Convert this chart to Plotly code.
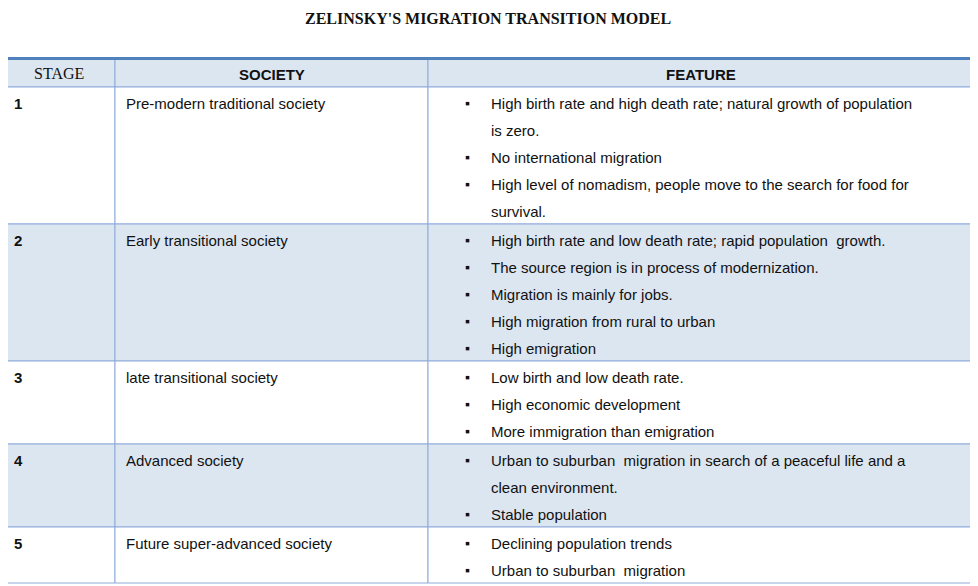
import plotly.graph_objects as go

title = "ZELINSKY'S MIGRATION TRANSITION MODEL"
headers = ["STAGE", "SOCIETY", "FEATURE"]
stages = ["1", "2", "3", "4", "5"]
societies = ["Pre-modern traditional society", "Early transitional society",
             "late transitional society", "Advanced society", "Future super-advanced society"]
features = [
    [["High birth rate and high death rate; natural growth of population", "is zero."],
     ["No international migration"],
     ["High level of nomadism, people move to the search for food for", "survival."]],
    [["High birth rate and low death rate; rapid population  growth."],
     ["The source region is in process of modernization."],
     ["Migration is mainly for jobs."],
     ["High migration from rural to urban"],
     ["High emigration"]],
    [["Low birth and low death rate."],
     ["High economic development"],
     ["More immigration than emigration"]],
    [["Urban to suburban  migration in search of a peaceful life and a", "clean environment."],
     ["Stable population"]],
    [["Declining population trends"],
     ["Urban to suburban  migration"]],
]

W, H = 978, 586
OFF = 8  # default page body margin
colx = [3, 115, 428, 973]
LINE = 27
border = "#8eaadb"
fill = "#dce6f1"
font = "Liberation Sans, Arial, sans-serif"

shapes, ann = [], []
def rect(x0, y0, x1, y1, fc, lw=1, lc=border):
    shapes.append(dict(type="rect", x0=x0, y0=y0, x1=x1, y1=y1, fillcolor=fc,
                       line=dict(color=lc, width=lw), layer="below"))
def text(x, y, s, size=15, anchor="left", bold=False, fam=font):
    ann.append(dict(x=x, y=y, text=f"<b>{s}</b>" if bold else s, showarrow=False,
                    xanchor=anchor, yanchor="middle", font=dict(size=size, color="#111", family=fam)))

rect(colx[0], 3, colx[3], 58, "white")
text((colx[0]+colx[3])/2, 18, title, 16, "center", True, "Liberation Serif, serif")
hy0, hy1 = 59, 87
for i in range(3):
    rect(colx[i], hy0, colx[i+1], hy1, fill)
shapes.append(dict(type="line", x0=colx[0], x1=colx[3], y0=58.5, y1=58.5, line=dict(color="#4f81bd", width=3)))
text((colx[0]+colx[1])/2, 73, headers[0], 16, "center", False, "Liberation Serif, serif")
text((colx[1]+colx[2])/2, 74, headers[1], 15, "center", True)
text((colx[2]+colx[3])/2, 74, headers[2], 15, "center", True)

y = hy1
for r in range(len(stages)):
    nlines = sum(len(f) for f in features[r])
    h = nlines * LINE + 2
    fc = fill if r % 2 == 1 else "white"
    for i in range(3):
        rect(colx[i], y, colx[i+1], y + h, fc)
    ly = y + 16
    text(12, ly, stages[r], 15, bold=True)
    text(124, ly, societies[r])
    for f in features[r]:
        text(463, ly, "▪", 14)
        for seg in f:
            text(489, ly, seg)
            ly += LINE
    y += h

fig = go.Figure()
fig.update_layout(width=W - OFF, height=H - OFF, margin=dict(l=0, r=0, t=0, b=0),
                  paper_bgcolor="white", plot_bgcolor="white",
                  xaxis=dict(range=[OFF, W], visible=False, fixedrange=True),
                  yaxis=dict(range=[H, OFF], visible=False, fixedrange=True),
                  shapes=shapes, annotations=ann)
fig.write_html("out.html")
